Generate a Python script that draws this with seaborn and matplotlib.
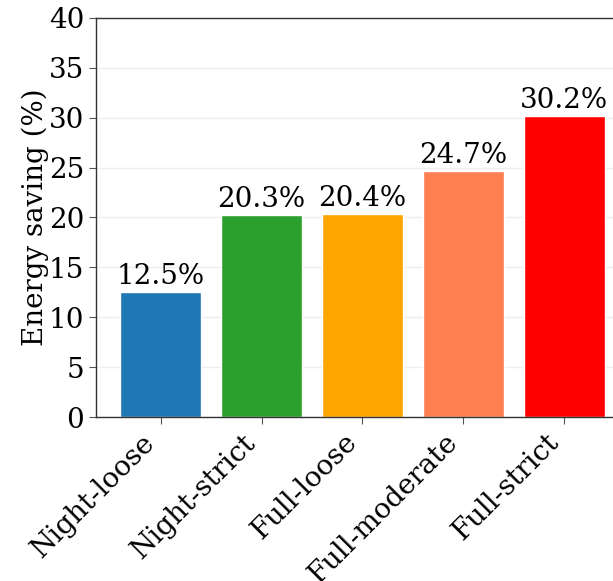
import matplotlib
matplotlib.use("Agg")
import matplotlib.pyplot as plt
import seaborn as sns
import pandas as pd

categories = ["Night-loose", "Night-strict", "Full-loose", "Full-moderate", "Full-strict"]
savings = [12.5, 20.3, 20.4, 24.7, 30.2]
bar_colors = ["#1f77b4", "#2ca02c", "#ffa500", "#ff7f50", "#ff0000"]
y_ticks = [0, 5, 10, 15, 20, 25, 30, 35, 40]

sns.set_style("white")
plt.rcParams["font.family"] = ["DejaVu Serif"]
plt.rcParams["text.color"] = "black"
plt.rcParams["axes.labelcolor"] = "black"
plt.rcParams["xtick.color"] = "black"
plt.rcParams["ytick.color"] = "black"

data = pd.DataFrame({"scheme": categories, "saving": savings})

fig = plt.figure(figsize=(6.13, 5.81), dpi=100)
ax = fig.add_axes([96 / 613, (581 - 417) / 581, (629 - 96) / 613, (417 - 18) / 581])

sns.barplot(data=data, x="scheme", y="saving", hue="scheme",
            palette=bar_colors, order=categories, hue_order=categories,
            width=0.8, saturation=1, legend=False, ax=ax)

for i, v in enumerate(savings):
    ax.text(i, v + 0.2, f"{v:.1f}%", ha="center", va="bottom", fontsize=20, color="black")

ax.set_ylim(0, 40)
ax.set_xlim(-0.64, 4.64)
ax.set_yticks(y_ticks)
ax.yaxis.grid(True, color="#eeeeee", linewidth=1)
ax.set_axisbelow(True)
ax.set_xlabel("")
ax.set_ylabel("Energy saving (%)", fontsize=20, labelpad=0)
ax.tick_params(axis="y", labelsize=20, length=5, color="#555555", labelcolor="black", left=True)
ax.tick_params(axis="x", labelsize=20, length=5, color="#555555", labelcolor="black", bottom=True)
plt.setp(ax.get_xticklabels(), rotation=45, ha="right")
for s in ax.spines.values():
    s.set_color("#333333")
    s.set_linewidth(1.0)

fig.savefig("out.png", dpi=100)
